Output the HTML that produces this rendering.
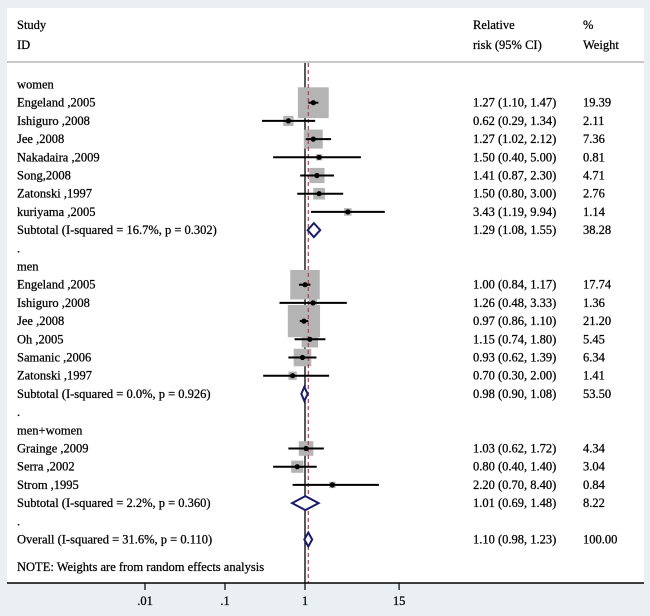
<!DOCTYPE html>
<html><head><meta charset="utf-8"><style>
body{margin:0;background:#fff}
svg{display:block}
text{font-family:"Liberation Serif",serif;font-size:12.5px;fill:#000;stroke:#000;stroke-width:0.25}
</style></head><body>
<svg id="c" width="650" height="616">
<rect x="0" y="0" width="650" height="616" fill="#e9eff3"/>
<rect x="7" y="8" width="637" height="575" fill="#fff"/>
<line x1="7" y1="62" x2="644" y2="62" stroke="#c8c8c8" stroke-width="2"/>
<text x="17" y="29">Study</text>
<text x="17" y="49">ID</text>
<text x="473" y="29">Relative</text>
<text x="473" y="49">risk (95% CI)</text>
<text x="583" y="29">%</text>
<text x="583" y="49">Weight</text>
<g id="marks"></g>
<line x1="7" y1="583" x2="644" y2="583" stroke="#000" stroke-width="1.5"/>
<g id="axis"></g>
</svg>
<script>
const labels=["women","Engeland ,2005","Ishiguro ,2008","Jee ,2008","Nakadaira ,2009","Song,2008","Zatonski ,1997","kuriyama ,2005","Subtotal  (I-squared = 16.7%, p = 0.302)",".","men","Engeland ,2005","Ishiguro ,2008","Jee ,2008","Oh ,2005","Samanic ,2006","Zatonski ,1997","Subtotal  (I-squared = 0.0%, p = 0.926)",".","men+women","Grainge ,2009","Serra ,2002","Strom ,1995","Subtotal  (I-squared = 2.2%, p = 0.360)",".","Overall  (I-squared = 31.6%, p = 0.110)"];
const kinds=["h","s","s","s","s","s","s","s","d","b","h","s","s","s","s","s","s","d","b","h","s","s","s","d","b","d"];
const est=[null,1.27,0.62,1.27,1.50,1.41,1.50,3.43,1.29,null,null,1.00,1.26,0.97,1.15,0.93,0.70,0.98,null,null,1.03,0.80,2.20,1.01,null,1.10];
const lo=[null,1.10,0.29,1.02,0.40,0.87,0.80,1.19,1.08,null,null,0.84,0.48,0.86,0.74,0.62,0.30,0.90,null,null,0.62,0.40,0.70,0.69,null,0.98];
const hi=[null,1.47,1.34,2.12,5.00,2.30,3.00,9.94,1.55,null,null,1.17,3.33,1.10,1.80,1.39,2.00,1.08,null,null,1.72,1.40,8.40,1.48,null,1.23];
const weights=[null,19.39,2.11,7.36,0.81,4.71,2.76,1.14,38.28,null,null,17.74,1.36,21.20,5.45,6.34,1.41,53.50,null,null,4.34,3.04,0.84,8.22,null,100.00];
const ticks=[0.01,0.1,1,15];
const tickLabels=[".01",".1","1","15"];
const overall=1.10;
const NS="http://www.w3.org/2000/svg";
const X=v=>305+80*Math.log10(v);
const Y=i=>84.5+i*18.2;
const mk=(t,a,p)=>{const e=document.createElementNS(NS,t);for(const k in a)e.setAttribute(k,a[k]);(p||document.getElementById('marks')).appendChild(e);return e;};
let l=mk('line',{x1:X(1),x2:X(1),y1:63,y2:583,stroke:'#000','stroke-width':1.3});


const fmt=v=>v.toFixed(2);
labels.forEach((lab,i)=>{
  const y=Y(i);
  let t=mk('text',{x:17,y:y+4});t.textContent=lab;
  
  
  if(kinds[i]==='s'){
    const s=7*Math.sqrt(weights[i]);
    let r=mk('rect',{x:X(est[i])-s/2,y:y-s/2,width:s,height:s,fill:'#b4b4b4'});
    
    
  }
});
let o=mk('line',{x1:X(overall),x2:X(overall),y1:63,y2:583,stroke:'#b5404a','stroke-width':1.2,'stroke-dasharray':'4,3'});


labels.forEach((lab,i)=>{
  const y=Y(i);
  if(est[i]==null)return;
  if(kinds[i]==='s'){
    let ln=mk('line',{x1:X(lo[i]),x2:X(hi[i]),y1:y,y2:y,stroke:'#000','stroke-width':2});
    
    
    let c=mk('circle',{cx:X(est[i]),cy:y,r:2.6,fill:'#000'});
    
    
  } else {
    const a=X(lo[i]),b=X(hi[i]),m=X(est[i]);
    let d=mk('polygon',{points:`${a},${y} ${m},${y-7} ${b},${y} ${m},${y+7}`,fill:'#fff',stroke:'#1a1a6a','stroke-width':2});
    
    
  }
  let t=mk('text',{x:473,y:y+4});t.textContent=`${fmt(est[i])} (${fmt(lo[i])}, ${fmt(hi[i])})`;
  
  
  let w=mk('text',{x:583,y:y+4});w.textContent=fmt(weights[i]);
  
  
});
let n=mk('text',{x:17,y:571});n.textContent="NOTE: Weights are from random effects analysis";


const ax=document.getElementById('axis');
ticks.forEach((v,i)=>{
  let tk=mk('line',{x1:X(v),x2:X(v),y1:583,y2:590,stroke:'#000','stroke-width':1.2},ax);
  
  
  let tl=mk('text',{x:X(v),y:605,'text-anchor':'middle'},ax);tl.textContent=tickLabels[i];
  
  
});
</script>
</body></html>
